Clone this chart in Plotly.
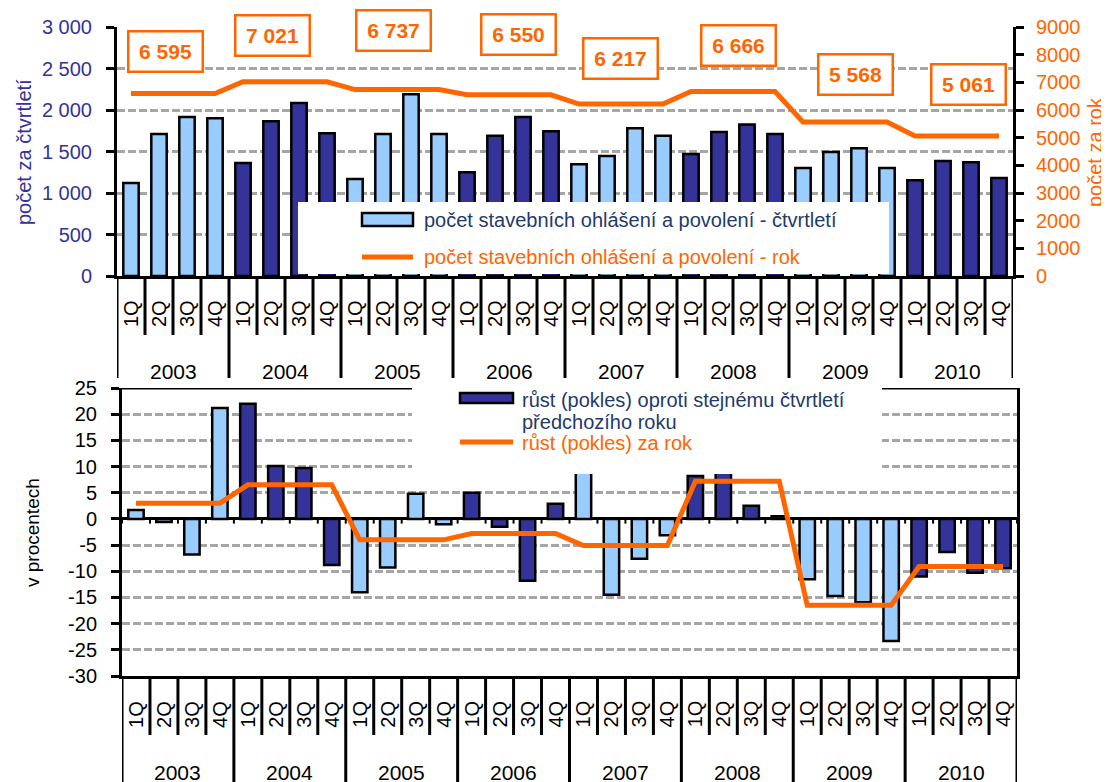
import plotly.graph_objects as go

W, H = 1109, 782
OFF = 8  # the page body adds an 8px margin, positions below are in screen pixels

years = ['2003', '2004', '2005', '2006', '2007', '2008', '2009', '2010']
quarters = ['1Q', '2Q', '3Q', '4Q']

# počet stavebních ohlášení a povolení - čtvrtletí
quarterly_count = [1120, 1710, 1915, 1900,
                   1360, 1865, 2085, 1720,
                   1170, 1710, 2190, 1710,
                   1250, 1690, 1915, 1745,
                   1345, 1445, 1780, 1690,
                   1470, 1735, 1825, 1710,
                   1300, 1495, 1540, 1300,
                   1155, 1385, 1370, 1180]
# počet za rok
annual_count = [6595, 7021, 6737, 6550, 6217, 6666, 5568, 5061]
annual_labels = ['6 595', '7 021', '6 737', '6 550', '6 217', '6 666', '5 568', '5 061']

# růst (pokles) oproti stejnému čtvrtletí předchozího roku, %
quarterly_growth = [1.7, -0.6, -6.8, 21.2,
                    22.0, 10.1, 9.7, -8.8,
                    -14.0, -9.3, 4.8, -1.0,
                    5.0, -1.5, -11.8, 2.9,
                    9.0, -14.5, -7.6, -3.1,
                    8.2, 20.0, 2.5, 0.5,
                    -11.5, -14.7, -15.9, -23.3,
                    -11.0, -6.3, -10.3, -9.4]
# růst (pokles) za rok, %
annual_growth = [3.0, 6.5, -4.0, -2.8, -5.1, 7.2, -16.5, -9.1]

left_ticks = [0, 500, 1000, 1500, 2000, 2500, 3000]
left_ticktext = ['0', '500', '1 000', '1 500', '2 000', '2 500', '3 000']
right_ticks = [0, 1000, 2000, 3000, 4000, 5000, 6000, 7000, 8000, 9000]
pct_ticks = [-30, -25, -20, -15, -10, -5, 0, 5, 10, 15, 20, 25]
pct_ticktext = ['-30', '-25', '-20', '-15', '-10', '-5', '0', '5', '10', '15', '20', '25']

LIGHT = '#99CCFF'
DARK = '#333399'
ORANGE = '#FF6600'
NAVY = '#1F3A6B'
GRID = '#A6A6A6'
FONT = 'Arial, Liberation Sans, sans-serif'

cats = [f'{q} {y}' for y in years for q in quarters]
bar_colors = [LIGHT if i % 2 == 0 else DARK for i in range(len(years)) for _ in quarters]
annual_count_q = [v for v in annual_count for _ in quarters]
annual_growth_q = [v for v in annual_growth for _ in quarters]


def px(v):
    return (v - OFF) / W


def py(v):
    return 1 - (v - OFF) / H


fig = go.Figure()

# top chart
fig.add_trace(go.Bar(
    x=cats, y=quarterly_count, xaxis='x', yaxis='y', width=0.55,
    marker=dict(color=bar_colors, line=dict(color='black', width=2.5)),
    showlegend=False
))
fig.add_trace(go.Scatter(
    x=cats, y=annual_count_q, xaxis='x', yaxis='y2', mode='lines',
    line=dict(color=ORANGE, width=5), showlegend=False
))

# bottom chart
fig.add_trace(go.Bar(
    x=cats, y=quarterly_growth, xaxis='x2', yaxis='y3', width=0.55,
    marker=dict(color=bar_colors, line=dict(color='black', width=2.5)),
    showlegend=False
))
fig.add_trace(go.Scatter(
    x=cats, y=annual_growth_q, xaxis='x2', yaxis='y3', mode='lines',
    line=dict(color=ORANGE, width=5), showlegend=False
))

shapes = []
annotations = []


def label(**kw):
    kw.setdefault('xanchor', 'center')
    kw.setdefault('yanchor', 'middle')
    kw.setdefault('showarrow', False)
    annotations.append(kw)


# two-level category axis (quarters + years) under both charts
for xref, top, q_bottom, y_bottom, q_mid, y_mid in [('x', 276, 335, 378, 314, 371),
                                                      ('x2', 676, 735, 790, 714, 772)]:
    for i in range(len(cats) + 1):
        year_edge = i % 4 == 0
        shapes.append(dict(type='line', xref=xref, yref='paper',
                           x0=i - 0.5, x1=i - 0.5, y0=py(top),
                           y1=py(y_bottom if year_edge else q_bottom),
                           line=dict(color='black', width=3)))
    for i, c in enumerate(cats):
        label(xref=xref, yref='paper', x=i, y=py(q_mid), text=quarters[i % 4],
              textangle=-90, font=dict(size=20, color='black'))
    for yi, yr in enumerate(years):
        label(xref=xref, yref='paper', x=yi * 4 + 1.5, y=py(y_mid), text=yr,
              font=dict(size=21, color='black'))

# small tick marks on the zero line of the bottom chart
for i in range(len(cats) + 1):
    shapes.append(dict(type='line', xref='x2', yref='y3', x0=i - 0.5, x1=i - 0.5,
                       y0=0, y1=-0.9, line=dict(color='black', width=2)))

# top border of the bottom chart (partly hidden by the legend box)
shapes.append(dict(type='line', xref='paper', yref='y3', x0=px(116), x1=px(1018.5),
                   y0=25, y1=25, line=dict(color='black', width=3), layer='above'))

# legend boxes (white, drawn over the bars like in Excel)
shapes.append(dict(type='rect', xref='paper', yref='paper', x0=px(298), x1=px(889),
                   y0=py(274), y1=py(202), fillcolor='white', line=dict(width=0),
                   layer='above'))
shapes.append(dict(type='rect', xref='paper', yref='paper', x0=px(362), x1=px(413),
                   y0=py(226), y1=py(213), fillcolor=LIGHT,
                   line=dict(color='black', width=2.5), layer='above'))
shapes.append(dict(type='line', xref='paper', yref='paper', x0=px(362), x1=px(413),
                   y0=py(257), y1=py(257), line=dict(color=ORANGE, width=5), layer='above'))

shapes.append(dict(type='rect', xref='paper', yref='paper', x0=px(412), x1=px(882),
                   y0=py(474), y1=py(384), fillcolor='white', line=dict(width=0),
                   layer='above'))
shapes.append(dict(type='rect', xref='paper', yref='paper', x0=px(460), x1=px(513),
                   y0=py(403), y1=py(393), fillcolor=DARK,
                   line=dict(color='black', width=2.5), layer='above'))
shapes.append(dict(type='line', xref='paper', yref='paper', x0=px(460), x1=px(513),
                   y0=py(442), y1=py(442), line=dict(color=ORANGE, width=5), layer='above'))

legend_texts = [
    (422, 220, 'počet stavebních ohlášení a povolení - čtvrtletí', NAVY),
    (422, 257, 'počet stavebních ohlášení a povolení - rok', ORANGE),
    (520, 400, 'růst (pokles) oproti stejnému čtvrtletí', NAVY),
    (520, 422, 'předchozího roku', NAVY),
    (520, 443, 'růst (pokles) za rok', ORANGE),
]
for x, y, t, c in legend_texts:
    label(xref='paper', yref='paper', x=px(x), y=py(y), text=t, xanchor='left',
          font=dict(size=20, color=c))

# annual value boxes
box_pos = [(-8, 52), (-13, 36), (-4, 30), (9, 34), (-1, 59), (5, 46), (10, 75), (11, 85)]
for yi, lbl in enumerate(annual_labels):
    dx, cy = box_pos[yi]
    label(xref='x', yref='paper', x=yi * 4 + 1.5, xshift=dx, y=py(cy),
          text=f'<b>{lbl}</b>', width=68, height=34, borderpad=2,
          bordercolor=ORANGE, borderwidth=2.5, bgcolor='white',
          font=dict(size=21, color=ORANGE))

# axis titles
label(xref='paper', yref='paper', x=px(24), y=py(152), text='počet za čtvrtletí',
      textangle=-90, font=dict(size=20, color=DARK))
label(xref='paper', yref='paper', x=px(1095), y=py(152), text='počet za rok',
      textangle=-90, font=dict(size=20, color=ORANGE))
label(xref='paper', yref='paper', x=px(32), y=py(533), text='v procentech',
      textangle=-90, font=dict(size=19, color='black'))

grid = dict(showgrid=True, gridcolor=GRID, gridwidth=2.5, griddash='8px,3px')

fig.update_layout(
    width=W, height=H,
    margin=dict(l=0, r=0, t=0, b=0, autoexpand=False),
    paper_bgcolor='white', plot_bgcolor='white',
    font=dict(family=FONT, size=19, color='black'),
    xaxis=dict(domain=[px(117), px(1013)], anchor='y', type='category', automargin=False,
               range=[-0.5, 31.5], showticklabels=False, ticks='', showgrid=False,
               showline=True, linecolor='black', linewidth=3),
    yaxis=dict(domain=[py(276), py(27)], anchor='x', range=[0, 3000], automargin=False,
               tickvals=left_ticks, ticktext=left_ticktext,
               tickfont=dict(size=20, color=DARK), ticks='outside', ticklen=8,
               tickwidth=3, tickcolor='black', ticklabelstandoff=10,
               showline=True, linecolor='black', linewidth=3, zeroline=False, **grid),
    yaxis2=dict(overlaying='y', side='right', anchor='x', range=[0, 9000], automargin=False,
                tickvals=right_ticks, tickfont=dict(size=20, color=ORANGE),
                ticks='outside', ticklen=8, tickwidth=3, tickcolor='black',
                ticklabelstandoff=8, showgrid=False, zeroline=False,
                showline=True, linecolor='black', linewidth=3),
    xaxis2=dict(domain=[px(122), px(1017)], anchor='y3', type='category', automargin=False,
                range=[-0.5, 31.5], showticklabels=False, ticks='', showgrid=False,
                showline=True, linecolor='black', linewidth=3),
    yaxis3=dict(domain=[py(676), py(388)], anchor='x2', range=[-30, 25], automargin=False,
                tickvals=pct_ticks, ticktext=pct_ticktext,
                tickfont=dict(size=20, color='black'), ticks='outside', ticklen=8,
                tickwidth=3, tickcolor='black', ticklabelstandoff=10,
                showline=True, mirror=True, linecolor='black', linewidth=3,
                zeroline=True, zerolinecolor='black', zerolinewidth=3, **grid),
    shapes=shapes,
    annotations=annotations,
)

fig.write_html('out.html')
